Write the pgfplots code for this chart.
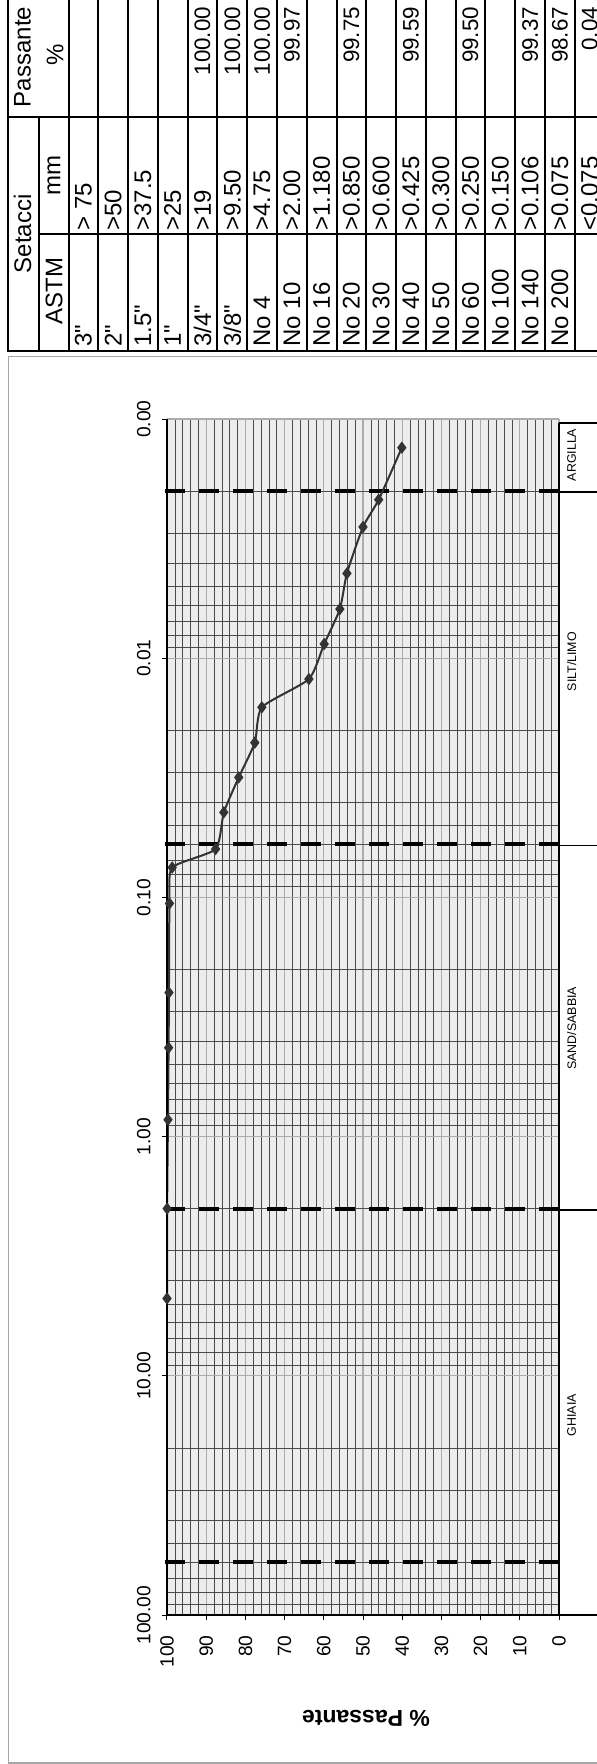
\documentclass[border=0pt]{standalone}
\usepackage{fontspec}
\setmainfont{Liberation Sans}[Ligatures=TeXOff]
\usepackage{pgfplots}
\pgfplotsset{compat=1.18}
\definecolor{dataline}{HTML}{333333}
\definecolor{framegray}{HTML}{A6A6A6}

\pgfplotstableread{
p d
100.00 4.75
99.97 2.00
99.75 0.850
99.59 0.425
99.50 0.250
99.37 0.106
98.67 0.075
87.6 0.0628
85.5 0.0441
81.7 0.0315
77.6 0.02255
75.8 0.01604
63.8 0.01222
59.9 0.00872
55.9 0.00623
54.1 0.00442
50.0 0.002828
46.0 0.002175
40.1 0.001318
}\gradation

\begin{document}
\begin{tikzpicture}
\useasboundingbox (0,0) rectangle (298.5pt,-882pt);
\clip (0,0) rectangle (298.5pt,-882pt);
\begin{scope}[x=0.5pt,y=-0.5pt]
  % outer chart frame
  \draw[framegray, line width=0.75pt] (8.3,356.5) rectangle (640,1763);
  % table grid
  \begin{scope}[line width=1pt]
    \draw (8,-10) -- (8,351) -- (640,351);
    \draw (8,117) -- (640,117);
    \draw (39,234) -- (640,234);
    \draw (39,117) -- (39,351);
    \foreach \i in {0,...,18} \draw ({68.5+\i*29.78},-10) -- ({68.5+\i*29.78},351);
  \end{scope}
  % headers
  \begin{scope}[every node/.style={rotate=90, inner sep=0pt, font=\fontsize{12}{12}\selectfont}]
    \node at (22.5,57) {Passante};
    \node at (55,55) {\%};
    \node at (22.5,234) {Setacci};
    \node at (54,176) {mm};
    \node at (54,291) {ASTM};
  \end{scope}
  % rows
  \foreach \i/\a/\m/\p in {
      0/{3"}/{> 75}/{},
      1/{2"}/{>50}/{},
      2/{1.5"}/{>37.5}/{},
      3/{1"}/{>25}/{},
      4/{3/4"}/{>19}/{100.00},
      5/{3/8"}/{>9.50}/{100.00},
      6/{No 4}/{>4.75}/{100.00},
      7/{No 10}/{>2.00}/{99.97},
      8/{No 16}/{>1.180}/{},
      9/{No 20}/{>0.850}/{99.75},
      10/{No 30}/{>0.600}/{},
      11/{No 40}/{>0.425}/{99.59},
      12/{No 50}/{>0.300}/{},
      13/{No 60}/{>0.250}/{99.50},
      14/{No 100}/{>0.150}/{},
      15/{No 140}/{>0.106}/{99.37},
      16/{No 200}/{>0.075}/{98.67},
      17/{}/{<0.075}/{0.04}}{
    \pgfmathsetmacro{\c}{68.5+(\i+0.5)*29.78}
    \node[rotate=90, anchor=west, inner sep=0pt, font=\fontsize{12}{12}\selectfont] at (\c,347) {\a};
    \node[rotate=90, anchor=west, inner sep=0pt, font=\fontsize{12}{12}\selectfont] at (\c,231) {\m};
    \node[rotate=90, anchor=east, inner sep=0pt, font=\fontsize{11.2}{11.2}\selectfont] at (\c,6.5) {\p};
  }
  % y axis title
  \node[rotate=180, font=\bfseries\fontsize{11.5}{11.5}\selectfont] at (366,1718) {\% Passante};
\end{scope}

\begin{axis}[
  at={(83.5pt,-807.5pt)}, anchor=south west,
  scale only axis, width=196pt, height=598pt,
  x dir=reverse, y dir=reverse, ymode=log,
  xmin=0, xmax=100, ymin=0.001, ymax=100,
  xtick={0,10,...,100},
  xticklabels={0,10,20,30,40,50,60,70,80,90,100},
  minor x tick num=4,
  ytick={0.001,0.01,0.1,1,10,100},
  yticklabels={0.00,0.01,0.10,1.00,10.00,100.00},
  minor ytick={0.002,0.003,0.004,0.005,0.006,0.007,0.008,0.009,
               0.02,0.03,0.04,0.05,0.06,0.07,0.08,0.09,
               0.2,0.3,0.4,0.5,0.6,0.7,0.8,0.9,
               2,3,4,5,6,7,8,9,
               20,30,40,50,60,70,80,90},
  grid=both,
  major grid style={draw=gray!65, line width=0.6pt},
  minor grid style={draw=black!70, line width=0.3pt},
  axis line style={draw=none},
  tick align=outside, major tick length=2.5pt, minor tick length=0pt,
  xtick pos=lower, ytick pos=lower,
  xticklabel pos=lower, yticklabel pos=lower,
  xticklabel shift=7.5pt, yticklabel shift=5.5pt,
  tick style={black, line width=0.5pt},
  /pgf/number format/assume math mode=true,
  xticklabel style={rotate=90, anchor=east, inner sep=0pt, font=\fontsize{9.6}{9.6}\selectfont},
  yticklabel style={rotate=90, anchor=south, inner sep=0pt, font=\fontsize{9.6}{9.6}\selectfont},
  clip=false,
  axis background/.style={fill=gray!14},
]
  \foreach \v in {0.002,0.06,2,60}{
    \edef\tmp{\noexpand\addplot[black, line width=2pt, dash pattern=on 9.75pt off 7.25pt, forget plot] coordinates {(100.5,\v) (0,\v)};}
    \tmp
  }
  \addplot[dataline, line width=1pt, smooth, tension=0.35, mark=diamond*, mark size=2.3pt,
           mark options={solid, fill=dataline}] table[x=p, y=d] {\gradation};
  % axis frame lines and classification boxes
  \draw[black, line width=0.75pt] (axis cs:100,0.001) -- (axis cs:100,100) -- (axis cs:-15,100);
  \draw[black, line width=0.75pt] (axis cs:0,0.00104) -- (axis cs:0,100);
  \foreach \v in {0.00104,0.00202,0.0607,2.03}{
    \edef\tmp{\noexpand\draw[black, line width=0.75pt] (axis cs:0,\v) -- (axis cs:-15,\v);}
    \tmp
  }
  \node[rotate=90, font=\fontsize{6.2}{6.2}\selectfont] at (axis cs:-3.24,0.001414) {ARGILLA};
  \node[rotate=90, font=\fontsize{6.2}{6.2}\selectfont] at (axis cs:-3.24,0.01034) {SILT/LIMO};
  \node[rotate=90, font=\fontsize{6.2}{6.2}\selectfont] at (axis cs:-3.24,0.3526) {SAND/SABBIA};
  \node[rotate=90, font=\fontsize{6.2}{6.2}\selectfont] at (axis cs:-3.24,14.6) {GHIAIA};
\end{axis}
\end{tikzpicture}
\end{document}
